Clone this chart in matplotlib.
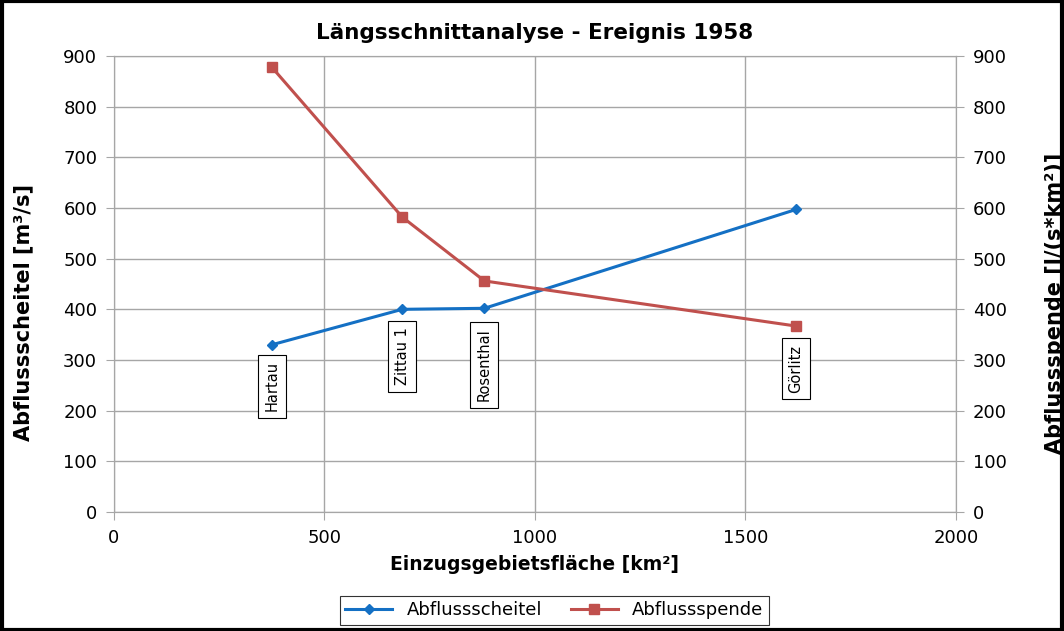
import matplotlib
matplotlib.use("Agg")
from matplotlib import pyplot as plt
from matplotlib.patches import Rectangle

# data
stations = ["Hartau", "Zittau 1", "Rosenthal", "Görlitz"]
flaeche = [375, 685, 880, 1620]          # km²
scheitel = [330, 400, 402, 597]          # m³/s
spende = [878, 582, 456, 367]            # l/(s*km²)
label_y = [248, 307, 290, 283]           # where the station boxes sit

blue = "#1470C4"
red = "#C0504D"
gridc = "#A6A6A6"

plt.rcParams["font.family"] = ["DejaVu Sans"]

fig = plt.figure(figsize=(10.64, 6.31), dpi=100)
ax = fig.add_axes([0.107, 0.1886, 0.7915, 0.7227])

ax.plot(flaeche, scheitel, color=blue, linewidth=2.2, marker="D", markersize=5,
        label="Abflussscheitel")
ax.plot(flaeche, spende, color=red, linewidth=2.2, marker="s", markersize=7,
        label="Abflussspende")

for name, x, y in zip(stations, flaeche, label_y):
    ax.text(x, y, name, rotation=90, ha="center", va="center", fontsize=10.5,
            bbox=dict(boxstyle="square,pad=0.45", fc="white", ec="black", lw=0.8))

ax.set_xlim(0, 2000)
ax.set_ylim(0, 900)
ax.set_xticks(range(0, 2001, 500))
ax.set_yticks(range(0, 901, 100))
ax.grid(True, color=gridc, linewidth=1)
ax.set_axisbelow(True)
for s in ax.spines.values():
    s.set_color(gridc)
ax.tick_params(axis="both", colors=gridc, labelcolor="black", labelsize=13, length=6, pad=6)

ax2 = ax.twinx()
ax2.set_ylim(0, 900)
ax2.set_yticks(range(0, 901, 100))
for s in ax2.spines.values():
    s.set_color(gridc)
ax2.tick_params(axis="y", colors=gridc, labelcolor="black", labelsize=13, length=6, pad=6)

ax.set_title("Längsschnittanalyse - Ereignis 1958", fontsize=15.5, fontweight="bold", pad=12)
ax.set_xlabel("Einzugsgebietsfläche [km²]", fontsize=13.5, fontweight="bold", labelpad=6)
fig.text(23 / 1064, 0.505, "Abflussscheitel [m³/s]", rotation=90, ha="center",
         va="center", fontsize=15, fontweight="bold")
fig.text(1055 / 1064, 0.52, "Abflussspende [l/(s*km²)]", rotation=90, ha="center",
         va="center", fontsize=15, fontweight="bold")

leg = fig.legend(loc="center", bbox_to_anchor=(0.521, 0.033), ncol=2, fontsize=13,
                 frameon=True, fancybox=False, edgecolor="black", handlelength=2.6,
                 columnspacing=1.6, borderpad=0.3)
leg.get_frame().set_linewidth(0.8)

fig.patches.append(Rectangle((0.002, 0.002), 0.996, 0.996, transform=fig.transFigure,
                             fill=False, edgecolor="black", linewidth=3))

fig.savefig("out.png", dpi=100)
